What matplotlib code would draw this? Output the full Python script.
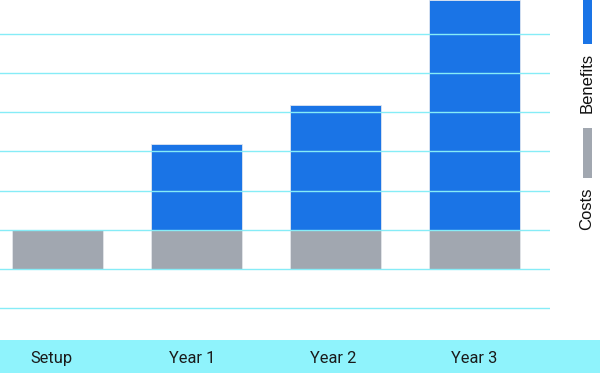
import matplotlib
matplotlib.use("Agg")
import matplotlib.pyplot as plt
from matplotlib.patches import Rectangle

categories = ["Setup", "Year 1", "Year 2", "Year 3"]
costs = [-100, -100, -100, -100]
benefits = [0, 220, 320, 587]
series_names = ["Benefits", "Costs"]
grid_values = [-200, -100, 0, 100, 200, 300, 400, 500]

BLUE = "#1a74e6"
GRAY = "#a1a7b0"
GRID = "#86ecf7"
BAND = "#8ff3fc"

W, H = 600, 373
fig = plt.figure(figsize=(W / 100, H / 100), dpi=100)

band_top = 339.5
ax = fig.add_axes([0, (H - band_top) / H, 550 / W, band_top / H])
x = list(range(len(categories)))
ax.bar(x, costs, width=0.655, color=GRAY, edgecolor="#e3e6ea", linewidth=0.6, zorder=2)
ax.bar(x, benefits, width=0.655, color=BLUE, edgecolor="#dfe6f0", linewidth=0.6, zorder=2)
ax.set_xlim(-57.5 / 139, (550 - 57.5) / 139)
unit = 39.07 / 100
zero = 229.6
ax.set_ylim(-(band_top - zero) / unit, zero / unit)
ax.set_yticks(grid_values)
ax.grid(axis="y", color=GRID, linewidth=1.0, zorder=3)
ax.set_axisbelow(False)
ax.tick_params(length=0, labelleft=False, labelbottom=False)
ax.set_xticks([])
for s in ax.spines.values():
    s.set_visible(False)

# category band
bax = fig.add_axes([0, 0, 1, (H - band_top) / H])
bax.set_facecolor(BAND)
bax.set_xlim(-51 / 141, (600 - 51) / 141)
bax.set_ylim(0, 1)
for i, c in enumerate(categories):
    bax.text(i, 0.42, c, ha="center", va="center", fontsize=11.8,
             family=["Roboto", "DejaVu Sans"], color="#1a1a1a")
bax.set_xticks([])
bax.set_yticks([])
for s in bax.spines.values():
    s.set_visible(False)

# legend (vertical, rotated)
def fx(px):
    return px / W
def fy(py):
    return 1 - py / H

legend_items = [(series_names[0], BLUE, -6, 44, 83), (series_names[1], GRAY, 128, 178, 208.5)]
for name, col, y0, y1, ty in legend_items:
    fig.add_artist(Rectangle((fx(583), fy(y1)), fx(592) - fx(583), fy(y0) - fy(y1),
                             transform=fig.transFigure, color=col, linewidth=0))
    fig.text(fx(587), fy(ty), name, rotation=90, ha="center", va="center",
             fontsize=12, family=["Liberation Sans", "DejaVu Sans"], color="#111111")

fig.savefig("out.png", dpi=100)
